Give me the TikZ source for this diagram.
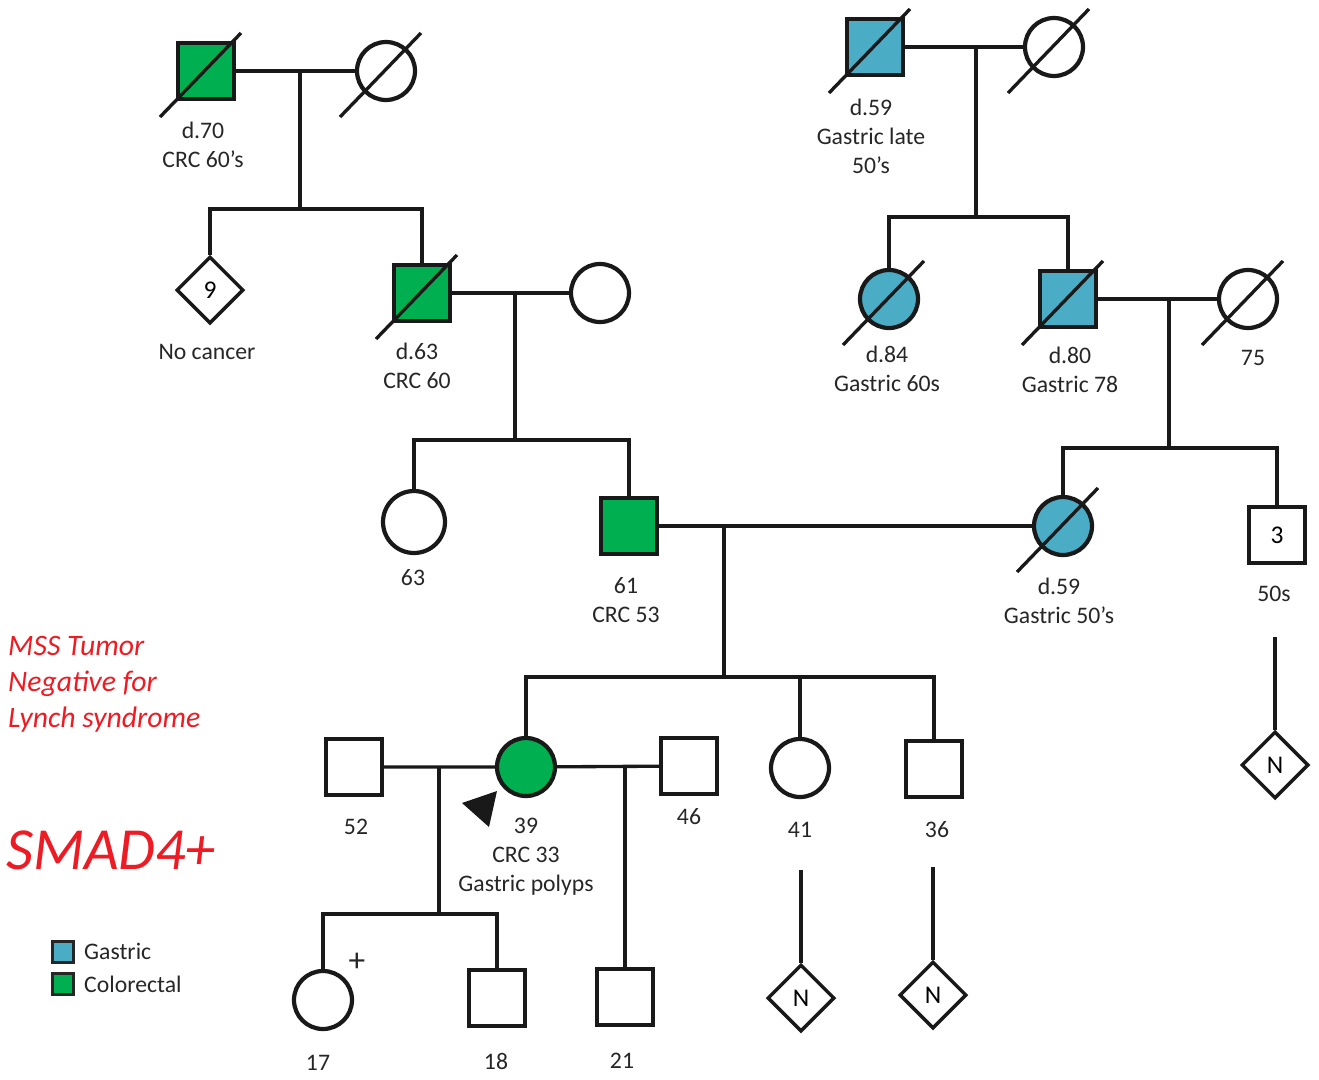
\documentclass[tikz,border=0pt]{standalone}
\usepackage{fontspec}
\setmainfont{Carlito}
\usetikzlibrary{shapes.geometric,positioning}
\definecolor{crcgreen}{RGB}{0,176,80}
\definecolor{gasblue}{RGB}{75,172,198}
\definecolor{notered}{RGB}{237,28,36}

\begin{document}
\begin{tikzpicture}[
  x=0.02cm, y=-0.02cm,
  male/.style={draw=black!90, line width=2.4pt, fill=#1, minimum size=1.12cm, inner sep=0pt,
    font=\fontsize{14.5}{16}\selectfont},
  male/.default=white,
  female/.style={draw=black!90, circle, line width=2.4pt, fill=#1, minimum size=1.16cm, inner sep=0pt},
  female/.default=white,
  nosex/.style={draw=black!90, diamond, line width=2pt, fill=white, minimum size=1.34cm, inner sep=0pt,
    font=\fontsize{14.5}{16}\selectfont},
  lbl/.style={font=\fontsize{13.5}{16.5}\selectfont, align=center, text=black!85},
  line/.style={line width=1.9pt, draw=black!90},
  slash/.style={line width=1.9pt, draw=black!90},
  note/.style={font=\fontsize{16.9}{20.5}\selectfont\itshape, text=notered, align=left, anchor=west},
  key/.style={draw=black!85, line width=1.6pt, fill=#1, minimum size=0.42cm, inner sep=0pt}
]
  \useasboundingbox (0,0) rectangle (1319,1079);

  % generation I, father's side
  \node[male=crcgreen] (gfL) at (206,71) {};
  \node[female] (gmL) at (386,71) {};
  \node[lbl] (lgfL) at (203,145) {d.70\\CRC 60’s};
  \coordinate (mL) at (300,71);
  \coordinate (sL) at (300,209);
  \draw[line] (gfL) -- (gmL);
  \draw[line] (mL) -- (sL);

  % generation II, father's side
  \node[nosex] (aunt9) at (210,290) {9};
  \node[lbl] (launt9) at (207,352) {No cancer};
  \node[male=crcgreen] (gpL) at (422,293) {};
  \node[lbl] (lgpL) at (417,366) {d.63\\CRC 60};
  \node[female] (gmL2) at (600,293) {};
  \coordinate (mL2) at (515,293);
  \coordinate (sL2) at (515,440);
  \draw[line] (aunt9) |- (sL) -| (gpL);
  \draw[line] (gpL) -- (gmL2);
  \draw[line] (mL2) -- (sL2);

  % generation III, father
  \node[female, minimum size=1.24cm] (aunt63) at (414,522) {};
  \node[lbl] (launt63) at (413,578) {63};
  \node[male=crcgreen] (fa61) at (629,526) {};
  \node[lbl] (lfa61) at (626,600) {61\\CRC 53};
  \draw[line] (aunt63) |- (sL2) -| (fa61);

  % generation I, mother's side
  \node[male=gasblue] (gfR) at (875,47) {};
  \node[female] (gmR) at (1054,47) {};
  \node[lbl] (lgfR) at (871,136) {d.59\\Gastric late\\50’s};
  \coordinate (mR) at (976,47);
  \coordinate (sR) at (976,217);
  \draw[line] (gfR) -- (gmR);
  \draw[line] (mR) -- (sR);

  % generation II, mother's side
  \node[female=gasblue] (ga84) at (889,299) {};
  \node[lbl] (lga84) at (887,369) {d.84\\Gastric 60s};
  \node[male=gasblue] (gpR) at (1068,299) {};
  \node[lbl] (lgpR) at (1070,370) {d.80\\Gastric 78};
  \node[female] (gmR2) at (1248,299) {};
  \node[lbl] (lgmR2) at (1253,358) {75};
  \coordinate (mR2) at (1169,299);
  \coordinate (sR2) at (1169,448);
  \draw[line] (ga84) |- (sR) -| (gpR);
  \draw[line] (gpR) -- (gmR2);
  \draw[line] (mR2) -- (sR2);

  % generation III, mother
  \node[female=gasblue] (mo59) at (1063,526) {};
  \node[lbl] (lmo59) at (1059,601) {d.59\\Gastric 50’s};
  \node[male] (unc3) at (1277,535) {3};
  \node[lbl] (lunc3) at (1274,594) {50s};
  \draw[line] (mo59) |- (sR2) -| (unc3);
  \coordinate (tunc3) at (1275,637);
  \node[nosex] (nunc3) at (1275,765) {N};
  \draw[line] (tunc3) -- (nunc3);

  % parents
  \coordinate (mP) at (724,526);
  \coordinate (sP) at (724,677);
  \draw[line] (fa61) -- (mo59);
  \draw[line] (mP) -- (sP);

  % generation IV
  \node[female=crcgreen] (pro39) at (526,767) {};
  \node[lbl] (lpro39) at (526,857) {39\\CRC 33\\Gastric polyps};
  \node[female] (sib41) at (800,768) {};
  \node[lbl] (lsib41) at (800,830) {41};
  \node[male] (sib36) at (934,769) {};
  \node[lbl] (lsib36) at (937,830) {36};
  \draw[line] (pro39) |- (sP) -| (sib36);
  \draw[line] (sP -| sib41) -- (sib41);
  \fill[black!90] (462,803) -- (497,791) -- (489,827) -- cycle;

  \node[male] (sp52) at (354,767) {};
  \node[lbl] (lsp52) at (356,827) {52};
  \node[male] (sp46) at (689,766) {};
  \node[lbl] (lsp46) at (689,817) {46};
  \draw[line] (sp52) -- (pro39) -- (sp46);
  \coordinate (m1) at (439,767);
  \coordinate (s1) at (439,914);
  \coordinate (m2) at (625,767);
  \draw[line] (m1) -- (s1);

  \coordinate (t41) at (801,870);
  \node[nosex] (n41) at (801,998) {N};
  \draw[line] (t41) -- (n41);
  \coordinate (t36) at (933,867);
  \node[nosex] (n36) at (933,995) {N};
  \draw[line] (t36) -- (n36);

  % generation V
  \node[female] (ch17) at (323,1000) {};
  \node[lbl] (lch17) at (318,1063) {17};
  \node[lbl, font=\fontsize{19}{20}\selectfont] (plus17) at (357,962) {+};
  \node[male] (ch18) at (497,998) {};
  \node[lbl] (lch18) at (496,1061) {18};
  \draw[line] (ch17) |- (s1) -| (ch18);
  \node[male] (ch21) at (625,997) {};
  \node[lbl] (lch21) at (622,1061) {21};
  \draw[line] (m2) -- (ch21);

  % deceased
  \foreach \n in {gfL,gmL,gpL,gfR,gmR,ga84,gpR,gmR2,mo59}
    \draw[slash] ([shift={(-46,46)}]\n.center) -- ([shift={(35,-38)}]\n.center);

  % notes and legend
  \node[note] (mss) at (2,684) {MSS Tumor\\Negative for\\Lynch syndrome};
  \node[note, font=\fontsize{34}{40}\selectfont\itshape] (smad) at (0,850) {SMAD4+};
  \node[key=gasblue] (kG) at (63,952) {};
  \node[lbl, anchor=west] (lkG) at (78,951) {Gastric};
  \node[key=crcgreen] (kC) at (63,984) {};
  \node[lbl, anchor=west] (lkC) at (78,984) {Colorectal};
\end{tikzpicture}
\end{document}
